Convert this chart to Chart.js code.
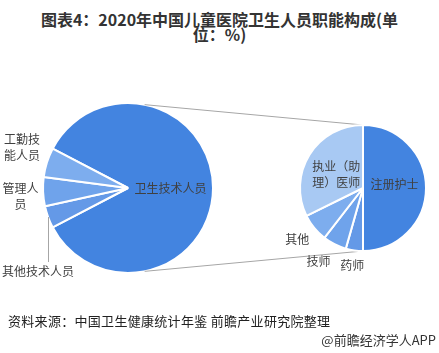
<!DOCTYPE html>
<html><head><meta charset="utf-8">
<script src="https://cdn.jsdelivr.net/npm/chart.js@4"></script>
<style>
body{margin:0;background:#fff;width:439px;height:353px;overflow:hidden;font-family:"Noto Sans CJK SC","Noto Sans",sans-serif}
#wrap{position:relative;width:439px;height:353px}
canvas{position:absolute;left:0;top:0}
.title{position:absolute;left:0;top:12px;width:439px;text-align:center;font-weight:bold;font-size:16px;line-height:15px;color:#333}
.src{position:absolute;left:8px;top:313px;font-size:13px;line-height:16px;color:#222;white-space:nowrap;letter-spacing:0.3px}
.brand{position:absolute;right:3px;top:332px;font-size:13px;line-height:16px;color:#333;white-space:nowrap}
</style></head>
<body><div id="wrap">
<div class="title">图表4：2020年中国儿童医院卫生人员职能构成(单<br>位：%)</div>
<canvas id="left" width="439" height="353"></canvas>
<canvas id="right" width="439" height="353"></canvas>
<div class="src">资料来源：中国卫生健康统计年鉴 前瞻产业研究院整理</div>
<div class="brand">@前瞻经济学人APP</div>
</div>
<script>
// ---- data ----
const leftLabels = ['卫生技术人员', '其他技术人员', '管理人员', '工勤技能人员'];
const leftValues = [84.7, 4.2, 5.5, 5.6];
const rightLabels = ['注册护士', '药师', '技师', '其他', '执业（助理）医师'];
const rightValues = [50.0, 4.4, 6.1, 7.2, 32.3];

// ---- styles ----
const leftColors = ['#4384E0', '#6499E7', '#6FA3EB', '#7DADEE'];
const rightColors = ['#4384E0', '#6499E7', '#6FA3EB', '#7DADEE', '#A8C9F3'];
const leftText = ['卫生技术人员', '其他技术人员', '管理人\n员', '工勤技\n能人员'];
const rightText = ['注册护士', '药师', '技师', '其他', '执业（助\n理）医师'];
const leftPlace = [{inside:0.5}, {dx:-10, dy:54, leader:true}, {dx:-22.6, dy:4.5}, {dx:-25, dy:-15}];
const rightPlace = [{inside:0.5, dy:-4}, {dx:-2, dy:15}, {dx:-16, dy:17}, {dx:-17, dy:12}, {inside:0.5, dy:3}];
const FONT = '"Noto Sans CJK SC","Noto Sans",sans-serif';

const labelPlugin = {
  id: 'sliceLabels',
  afterDraw(chart, args, opts) {
    const ctx = chart.ctx;
    const meta = chart.getDatasetMeta(0);
    ctx.save();
    ctx.font = '12px ' + FONT;
    ctx.fillStyle = '#404040';
    ctx.textAlign = 'center';
    ctx.textBaseline = 'middle';
    meta.data.forEach((arc, i) => {
      const p = arc.getProps(['x','y','startAngle','endAngle','outerRadius'], true);
      const mid = (p.startAngle + p.endAngle) / 2;
      const s = opts.place[i];
      let tx, ty;
      if (s.inside !== undefined) {
        tx = p.x + Math.cos(mid) * p.outerRadius * s.inside + (s.dx || 0);
        ty = p.y + Math.sin(mid) * p.outerRadius * s.inside + (s.dy || 0);
      } else {
        const ox = p.x + Math.cos(mid) * p.outerRadius;
        const oy = p.y + Math.sin(mid) * p.outerRadius;
        tx = ox + s.dx; ty = oy + s.dy;
        if (s.leader) {
          ctx.save();
          ctx.strokeStyle = '#a6a6a6'; ctx.lineWidth = 1;
          ctx.beginPath();
          ctx.moveTo(Math.round(ox) + 0.5, oy);
          ctx.lineTo(Math.round(ox) + 0.5, ty - 9);
          ctx.stroke();
          ctx.restore();
        }
      }
      const lines = opts.text[i].split('\n');
      const lh = 16;
      lines.forEach((ln, k) => {
        ctx.fillText(ln, tx, ty + (k - (lines.length - 1) / 2) * lh);
      });
    });
    ctx.restore();
  }
};

const connectorPlugin = {
  id: 'connectors',
  beforeDatasetsDraw(chart, args, opts) {
    const lc = opts.leftChart;
    if (!lc) return;
    const L = lc.getDatasetMeta(0).data[0].getProps(['x','y','outerRadius'], true);
    const R = chart.getDatasetMeta(0).data[0].getProps(['x','y','outerRadius'], true);
    const a = opts.angle * Math.PI / 180;
    const ctx = chart.ctx;
    ctx.save();
    ctx.strokeStyle = '#a6a6a6';
    ctx.lineWidth = 1;
    ctx.beginPath();
    ctx.moveTo(L.x + Math.cos(-a) * L.outerRadius, L.y + Math.sin(-a) * L.outerRadius);
    ctx.lineTo(R.x, R.y - R.outerRadius);
    ctx.moveTo(L.x + Math.cos(a) * L.outerRadius, L.y + Math.sin(a) * L.outerRadius);
    ctx.lineTo(R.x, R.y + R.outerRadius);
    ctx.stroke();
    ctx.restore();
  }
};

const leftTotal = leftValues.reduce((s, v) => s + v, 0);
const leftChart = new Chart(document.getElementById('left'), {
  type: 'pie',
  data: { labels: leftLabels, datasets: [{ data: leftValues, backgroundColor: leftColors, borderColor: '#fff', borderWidth: 2 }] },
  options: {
    responsive: false, animation: false,
    rotation: 90 - (leftValues[0] / leftTotal) * 180,
    layout: { padding: { left: 42, right: 225, top: 102, bottom: 79 } },
    plugins: { legend: { display: false }, tooltip: { enabled: false },
      sliceLabels: { text: leftText, place: leftPlace } }
  },
  plugins: [labelPlugin]
});

new Chart(document.getElementById('right'), {
  type: 'pie',
  data: { labels: rightLabels, datasets: [{ data: rightValues, backgroundColor: rightColors, borderColor: '#fff', borderWidth: 2 }] },
  options: {
    responsive: false, animation: false,
    rotation: 0,
    layout: { padding: { left: 299, right: 12, top: 124, bottom: 101 } },
    plugins: { legend: { display: false }, tooltip: { enabled: false },
      sliceLabels: { text: rightText, place: rightPlace },
      connectors: { leftChart: leftChart, angle: 78.7 } }
  },
  plugins: [connectorPlugin, labelPlugin]
});
</script>
</body></html>
